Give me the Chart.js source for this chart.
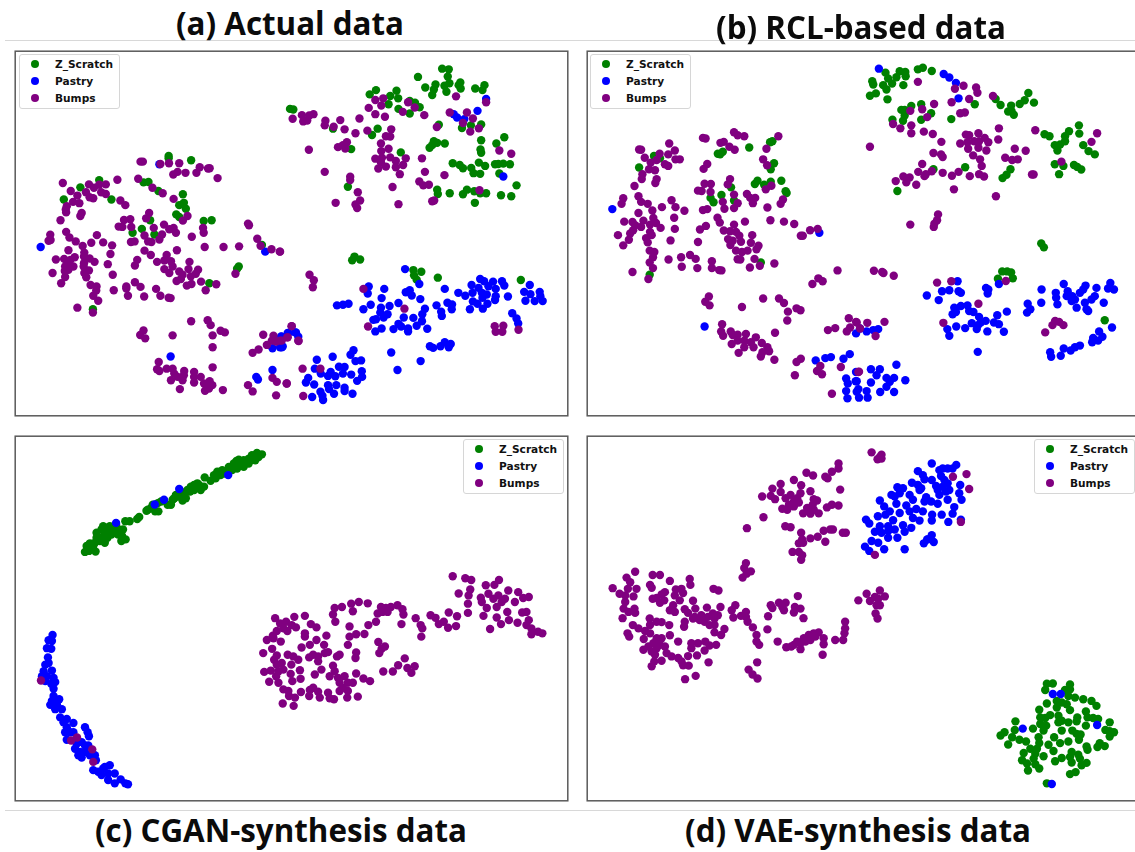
<!DOCTYPE html>
<html><head><meta charset="utf-8">
<script src="https://cdn.jsdelivr.net/npm/chart.js@4"></script>
<style>
html,body{margin:0;padding:0;background:#fff;width:1135px;height:852px;overflow:hidden}
#stage{position:relative;width:1135px;height:852px;overflow:hidden}
canvas{position:absolute;display:block}
.rule{position:absolute;left:5px;width:1130px;height:1px;background:#d8d8d8}
.title{position:absolute;font:bold 33px "Open Sans",sans-serif;color:#0b0b0b;white-space:nowrap;line-height:40px;transform-origin:left center}
.legend{position:absolute;width:99px;height:53px;border:1px solid #d6d6d6;border-radius:3px;background:#fff;box-sizing:content-box}
.legend div{position:absolute;left:35px;font:bold 10.6px/14px "DejaVu Sans",sans-serif;color:#111;white-space:nowrap}
.legend i{position:absolute;left:10.5px;width:8.6px;height:8.6px;border-radius:50%}
</style></head><body><div id="stage"></div>
<script>
const seriesNames=["Z_Scratch","Pastry","Bumps"];
const seriesColors=["#008000","#0000ff","#800080"];

const a_scratch=[[503,345],[503,352],[571,358],[293,418],[236,440],[186,477],[330,477],[427,425],[442,424],[472,451],[546,461],[549,487],[535,494],[555,505],[526,522],[535,530],[447,540],[609,542],[633,540],[422,566],[394,578],[460,583],[785,615],[715,680],[710,687],[626,731],[274,810],
[1330,80],[1350,82],[1257,105],[1347,104],[1352,124],[1385,122],[1380,130],[1310,128],[1337,132],[1279,137],[1305,143],[1386,140],[1430,140],[1458,130],[1452,145],[1343,150],[1300,160],[1130,145],[1192,147],[1111,158],[1173,163],[1197,170],[1168,188],[1232,178],[1248,183],[1262,197],[1198,202],[1232,216],[870,202],[880,204],[1000,262],[1135,262],[1118,281],[1320,250],[1390,260],[1417,252],[1448,249],[1448,297],[1305,300],[1315,305],[1338,307],[1300,312],[1292,320],[1494,307],[1518,288],[1446,325],[1448,335],[1205,334],[1055,324],[1362,367],[1383,372],[1393,382],[1418,381],[1441,365],[1460,375],[1490,370],[1500,369],[1515,368],[1535,370],[1425,397],[1445,399],[1503,398],[1555,434],[1315,447],[1317,460],[1353,458],[1405,447],[1393,461],[1427,452],[1463,458],[1445,458],[1508,464],[1539,467],[1429,487],[1045,438],[1065,650],[1058,661],[1082,659],[1243,691],[1267,696],[1245,707],[1253,720],[1317,714],[1568,721]];
const a_pastry=[[116,621],[475,370],[795,635],[509,953],[817,994],[768,1015],[773,1023],[843,892],[863,882],[885,880],[817,928],[840,925],[848,923],
[1463,172],[1437,208],[1365,218],[1375,228],[1397,233],[1515,407],[1218,688],[1261,733],[1155,748],[1108,741],[1105,762],[1147,776],[1220,758],[1232,752],[1238,768],[1264,779],[1338,748],[1379,760],[1400,769],[1419,736],[1440,745],[1445,718],[1457,725],[1484,726],[1511,725],[1518,738],[1492,748],[1470,740],[1450,760],[1422,760],[1465,765],[1452,775],[1492,770],[1490,782],[1529,771],[1595,736],[1578,757],[1597,764],[1625,757],[1627,770],[1610,785],[1634,785],[1582,784],[1423,786],[1437,793],[1467,793],[1453,808],[1414,810],[1346,790],[1360,795],[1359,810],[1313,798],[1327,817],[1329,830],[1198,791],[1171,800],[1145,805],[1143,820],[1092,810],[1114,796],[1012,798],[1030,796],[1047,793],[1278,808],[1270,825],[1243,836],[1214,835],[1269,846],[1198,854],[1165,825],[1153,835],[1130,840],[1122,842],[1128,877],[1147,868],[1183,870],[1206,862],[1227,868],[1227,877],[1253,860],[1285,869],[1542,822],[1555,838],[1560,853],[1293,922],[1303,927],[1325,922],[1338,910],[1350,925],[1356,915],[1176,941],[1265,967],[1195,994],[1062,934],[1053,948],[999,954],[951,963],[1068,967],[1085,965],[945,990],[1018,984],[1035,985],[1087,998],[963,1005],[993,1000],[985,1012],[1007,1013],[1030,1005],[1055,1008],[925,1018],[918,1032],[943,1038],[985,1040],[1010,1040],[1035,1048],[988,1052],[1073,1027],[1088,1015],[962,1060],[1003,1066],[1035,1058],[1059,1066],[937,1076],[968,1072],[970,1085],[845,925],[865,882],[888,880],[895,893],[845,893]];
const a_bumps=[[418,362],[425,362],[478,369],[504,367],[535,367],[597,379],[587,396],[530,393],[517,401],[554,396],[622,383],[627,382],[651,412],[348,417],[411,414],[183,427],[262,431],[293,432],[313,431],[277,441],[207,451],[253,455],[299,455],[313,460],[227,465],[264,470],[275,473],[214,484],[233,488],[357,480],[372,494],[195,497],[192,507],[193,516],[240,518],[236,527],[176,540],[454,441],[485,458],[518,475],[444,518],[435,534],[368,539],[387,537],[390,560],[352,559],[363,560],[560,527],[546,541],[489,553],[458,563],[505,567],[518,563],[525,578],[607,563],[609,578],[743,550],[746,555],[430,586],[483,583],[475,598],[441,604],[451,606],[573,590],[389,606],[400,604],[145,584],[146,600],[140,602],[193,575],[203,592],[222,604],[286,585],[269,608],[305,607],[332,616],[243,618],[200,631],[327,642],[248,638],[247,650],[264,656],[279,666],[162,659],[187,657],[219,652],[206,660],[197,668],[190,680],[215,680],[200,690],[189,694],[152,700],[190,712],[247,670],[246,680],[262,692],[248,700],[254,713],[178,731],[319,673],[334,705],[430,632],[449,645],[528,631],[612,621],[669,621],[716,619],[771,596],[781,617],[814,628],[839,635],[497,645],[408,660],[401,677],[468,666],[490,662],[510,664],[566,666],[515,680],[490,688],[505,700],[535,695],[563,688],[592,690],[585,702],[545,705],[570,710],[527,724],[540,718],[601,726],[647,734],[572,733],[558,738],[615,752],[705,702],[267,736],[285,741],[284,753],[275,769],[290,784],[337,752],[375,741],[375,747],[401,728],[418,742],[380,769],[429,771],[465,748],[478,769],[503,775],[509,776],[227,805],[274,820],
[571,846],[621,843],[630,858],[427,874],[417,888],[432,898],[515,889],[636,889],[660,875],[673,880],[636,925],[473,970],[468,992],[497,990],[515,990],[475,997],[520,1005],[550,997],[580,1000],[549,1010],[530,1015],[510,1025],[580,1015],[600,1015],[545,1025],[580,1032],[627,1028],[610,1035],[635,1040],[625,1050],[537,1052],[613,1057],[667,1055],[636,986],[743,1040],[757,1059],[817,1018],[830,1030],[860,1035],[828,1071],[789,887],[875,861],[820,890],[815,905],[800,918],[828,908],[845,905],[863,895],[895,905],[775,932],[757,942],
[878,232],[906,221],[928,222],[941,218],[922,237],[910,240],[977,238],[975,252],[1002,256],[1022,236],[1080,231],[1035,264],[1068,276],[1104,268],[927,326],[1015,318],[1030,312],[1042,303],[1037,322],[975,393],[1052,408],[1052,418],[1075,455],[1082,480],[1068,492],[1073,503],[1008,487],[1128,175],[1152,170],[1146,192],[1108,199],[1128,218],[1157,226],[1227,182],[1211,211],[1247,198],[1276,221],[1176,264],[1160,285],[1173,286],[1145,307],[1168,323],[1146,330],[1128,353],[1148,350],[1145,365],[1173,349],[1137,383],[1160,377],[1190,360],[1220,352],[1212,372],[1190,379],[1202,400],[1180,439],[1198,491],[1269,352],[1278,393],[1337,403],[1261,422],[1273,434],[1290,432],[1300,482],[1306,480],[1372,164],[1463,182],[1353,213],[1405,213],[1423,231],[1393,245],[1314,257],[1441,261],[1415,271],[1503,328],[1539,338],[1443,449],[840,635],[929,705],[942,722],[939,743],[1092,748],[1216,808],[1106,862],[1489,861],[1515,860],[1492,878],[1512,878],[1561,872],[875,861],[862,895],[896,906],[840,905],[908,990],[962,990],[860,1035],[910,1073]];

const b_scratch=[[217,345],[235,352],[172,380],[417,340],[425,332],[410,338],[505,319],[568,303],[575,300],[580,367],[570,385],[530,420],[522,430],[550,432],[570,423],[602,420],[615,452],[618,457],[450,440],[421,463],[388,472],[397,485],[459,480],[540,668],[204,705],
[917,92],[960,88],[977,90],[978,103],[950,106],[925,110],[937,125],[910,130],[920,143],[877,118],[880,128],[870,162],[888,155],[923,173],[971,130],[1015,82],[1030,77],[1057,87],[975,205],[995,193],[1025,188],[965,205],[975,222],[970,238],[938,235],[1025,235],[1055,215],[1116,233],[1187,188],[1250,172],[1265,190],[1297,192],[1288,210],[1298,208],[1305,220],[1323,187],[1338,176],[1349,154],[1366,183],[1398,279],[1413,285],[1472,270],[1460,285],[1460,300],[1429,312],[1445,310],[1437,328],[1502,252],[1503,277],[1515,312],[1531,330],[1550,340],[1429,370],[1455,375],[1487,372],[1497,378],[1509,386],[1442,400],[1295,385],[1283,402],[1271,412],[1158,379],[1062,385],[953,451],[1388,610],[1396,622],[1270,695],[1285,695],[1297,698],[1257,717],[1302,716],[1580,843]];
const b_pastry=[[91,506],[717,578],[370,862],[828,883],[706,965],[735,958],[752,955],[790,960],[809,946],[828,1000],[798,1020],[803,1035],[798,1058],[827,1028],[802,1080],[830,1060],
[897,80],[1093,96],[1110,107],[1130,123],[1138,170],[1135,725],[1221,745],[1228,750],[1226,762],[1088,755],[1110,752],[1138,755],[1145,760],[1042,768],[1078,782],[1260,733],[1125,805],[1145,800],[1165,798],[1120,825],[1130,818],[1170,815],[1183,818],[1200,833],[1220,845],[1205,850],[1255,828],[1284,817],[1197,858],[1178,852],[1131,862],[1158,867],[1104,870],[1110,890],[1193,870],[1225,877],[1245,850],[1260,855],[1275,878],[1196,939],[1456,733],[1389,750],[1468,755],[1432,760],[1522,738],[1555,745],[1597,730],[1590,747],[1608,750],[1515,750],[1505,760],[1482,770],[1465,770],[1433,775],[1437,795],[1388,790],[1347,793],[1355,810],[1345,820],[1490,780],[1495,805],[1525,810],[1530,815],[1550,770],[1540,780],[1577,790],[1520,790],[1480,785],[1602,865],[1563,877],[1573,893],[1545,897],[1542,910],[1560,905],[1505,920],[1490,925],[1477,935],[1456,929],[1447,951],[1415,940],[1418,954],[950,978],[873,992],[900,992],[890,1010],[920,1018],[943,1018],[873,1032],[977,1025],[930,1030],[920,1045],[943,1061],[901,1061],[835,1052],[860,1058],[837,1078],[863,1078],[830,1028],[880,873],[840,868],[860,877],[895,870]];
const b_bumps=[[459,273],[470,282],[490,285],[593,285],[365,290],[373,292],[418,305],[428,302],[445,317],[461,326],[557,323],[547,355],[559,373],[263,307],[172,325],[178,326],[280,328],[260,340],[234,338],[189,350],[282,355],[295,355],[225,357],[207,365],[250,370],[260,375],[202,385],[220,388],[378,369],[367,384],[182,400],[180,415],[225,415],[221,427],[158,436],[447,415],[370,429],[389,430],[440,431],[350,450],[361,451],[388,454],[555,446],[572,435],[459,462],[498,460],[523,472],[508,472],[516,488],[170,467],[124,473],[119,490],[178,484],[198,490],[270,479],[241,500],[282,500],[309,511],[425,484],[470,488],[430,505],[459,503],[560,501],[607,477],[600,490],[365,509],[378,506],[212,510],[170,518],[278,532],[215,533],[127,544],[152,545],[185,541],[223,548],[160,555],[205,553],[178,560],[237,563],[280,566],[154,570],[108,585],[145,580],[205,575],[210,585],[193,594],[141,599],[124,616],[198,607],[267,601],[350,606],[409,532],[416,547],[374,557],[356,568],[459,553],[492,544],[569,540],[610,544],[641,551],[428,571],[447,573],[465,575],[514,585],[475,587],[441,597],[455,602],[480,605],[510,608],[448,615],[533,617],[527,628],[465,632],[483,636],[500,632],[689,570],[712,566],[661,587],[667,587],[204,632],[218,636],[214,652],[204,668],[261,659],[299,652],[326,645],[343,657],[214,685],[301,681],[348,685],[392,664],[392,685],[414,691],[421,692],[470,658],[478,659],[521,657],[507,683],[537,678],[581,671],[152,697],[200,718],[772,692],[714,716],[727,725],[696,733],
[383,771],[372,787],[385,798],[483,803],[547,777],[595,777],[610,791],[648,807],[660,813],[622,817],[620,844],[423,855],[420,877],[426,890],[449,877],[455,888],[470,887],[495,885],[452,915],[470,905],[490,905],[525,895],[510,910],[473,942],[490,925],[518,925],[543,912],[560,925],[545,940],[565,937],[540,953],[583,881],[581,963],[661,960],[648,970],[643,1010],[720,982],[710,997],[725,1007],[782,985],[755,1066],[743,873],[765,867],[800,877],[806,837],[810,865],[828,848],[835,1000],
[1015,120],[1127,141],[1153,132],[1191,137],[1195,153],[1242,163],[1170,172],[1117,182],[1064,187],[992,208],[1028,203],[1043,227],[940,248],[962,261],[995,252],[995,276],[1033,271],[1060,278],[1086,302],[870,317],[1143,215],[1157,213],[1260,261],[1370,267],[1557,276],[1540,302],[1258,295],[1160,280],[1170,282],[1198,276],[1217,290],[1228,303],[1185,300],[1165,303],[1143,307],[1200,300],[1198,320],[1167,323],[1222,328],[1062,336],[1085,340],[1090,348],[1182,343],[1203,355],[1208,375],[1028,369],[1016,393],[1057,391],[1090,396],[1039,400],[1035,406],[1118,405],[1138,393],[1172,406],[1200,400],[1215,407],[1308,323],[1341,329],[1279,350],[1300,357],[1317,355],[1360,401],[1365,401],[1449,362],[948,421],[971,407],[990,410],[980,425],[1010,432],[1124,446],[1251,467],[1076,522],[1073,540],[1065,550],[1063,560],[992,553],[882,693],[907,697],[911,700],[942,708],[1073,729],[1116,725],[1281,724],[1198,793],[1092,851],[1422,858],[1430,845],[1442,848],[1455,858],[1400,880],[914,848],[862,851],[830,850],[840,868],[887,891],[837,999]];

const c_scratch=[[250,378],[262,375],[282,377],[270,370],[255,360],[265,352],[280,350],[295,345],[310,350],[285,335],[298,335],[318,335],[285,320],[305,300],[300,310],[320,315],[335,320],[350,310],[325,300],[345,300],[365,310],[372,285],[360,345],[373,340],[385,285],[408,278],[414,272],[436,253],[450,245],[462,255],[472,255],[470,230],[480,225],[500,235],[510,235],[515,220],[525,205],[545,222],[555,215],[540,195],[560,190],[570,180],[580,175],[590,170],[600,190],[610,180],[612,152],[630,162],[645,155],[650,135],[665,130],[672,140],[685,120],[695,130],[710,125],[708,102],[720,105],[730,100],[745,95],[755,85],[770,78],[785,82],[765,100],[745,110],[730,120],[715,98],[760,92],[775,90],[340,310],[330,325],[310,325],[275,360],[350,325],[362,330],[440,250],[455,235],[520,215],[530,210],[550,205],[568,195],[580,190],[595,175],[640,145],[660,145],[680,135],[700,110],[735,108],[750,100]];
const c_pastry=[[344,290],[461,234],[489,220],[535,187],[683,145],[152,630],[140,646],[150,648],[135,670],[148,672],[138,698],[130,720],[140,715],[125,740],[150,738],[120,755],[135,755],[155,760],[130,770],[148,778],[160,773],[155,793],[155,815],[172,825],[150,830],[145,842],[165,840],[160,855],[180,855],[175,880],[195,885],[185,895],[215,897],[195,910],[205,925],[190,925],[215,925],[195,948],[250,910],[258,925],[262,937],[225,960],[240,955],[250,965],[260,965],[220,975],[235,985],[250,985],[230,995],[240,1002],[265,995],[280,995],[283,1010],[275,1040],[290,1045],[305,1035],[325,1025],[300,1055],[320,1050],[340,1050],[320,1070],[340,1080],[358,1068],[372,1080],[380,1083],[310,1030]];
const c_bumps=[[117,768],[208,950],[226,941],[272,977],[275,1015],
[825,579],[883,575],[840,595],[858,590],[875,600],[850,610],[888,607],[862,618],[830,618],[818,632],[800,645],[820,640],[842,650],[915,572],[933,597],[950,607],[915,625],[915,635],[980,632],[950,645],[905,668],[930,660],[973,660],[789,685],[816,672],[830,692],[863,690],[880,695],[895,705],[822,705],[830,720],[874,720],[845,715],[928,698],[955,695],[975,685],[985,682],[955,710],[940,690],[1020,690],[1012,695],[1070,683],[1068,700],[1050,635],[1070,628],[1095,627],[1045,660],[1000,723],[792,742],[812,738],[835,740],[850,735],[828,755],[872,748],[900,737],[945,750],[965,735],[990,755],[1005,740],[807,772],[835,775],[877,770],[902,763],[850,795],[865,800],[867,815],[885,820],[848,838],[881,845],[903,803],[930,797],[940,790],[928,815],[955,802],[960,820],[985,805],[990,822],[1003,825],[1015,760],[1035,755],[1020,775],[1045,775],[1060,775],[1030,790],[1045,800],[1020,800],[1043,820],[1075,817],[1070,747],[1092,762],[1112,770],[1000,568],[1007,590],[1005,548],[1027,545],[1060,558],[1055,535],[1078,530],[1105,534],[1050,604],[1107,600],[1145,545],[1160,548],[1175,545],[1195,540],[1210,552],[1135,565],[1150,560],[1130,590],[1165,560],[1213,568],[1207,597],[1137,651],[1157,665],[1147,672],[1140,685],[1217,701],[1197,722],[1225,730],[1247,725],[1152,741],[1181,741],[1237,745],[1250,579],[1265,600],[1270,610],[1267,635],[1295,570],[1310,578],[1320,597],[1350,562],[1335,590],[1348,608],[1375,573],[1372,603],[1362,452],[1400,458],[1418,463],[1380,504],[1415,492],[1410,510],[1408,535],[1408,563],[1462,479],[1488,478],[1502,463],[1447,517],[1470,505],[1450,530],[1465,548],[1485,520],[1500,510],[1520,520],[1510,530],[1495,545],[1455,572],[1495,577],[1508,597],[1532,585],[1527,560],[1475,612],[1530,495],[1560,500],[1550,530],[1575,518],[1592,515],[1572,562],[1585,560],[1558,593],[1592,585],[1585,600],[1600,610],[1600,628],[1620,620],[1633,625]];

const d_scratch=[[1405,778],[1423,777],[1475,780],[1400,797],[1460,797],[1475,795],[1490,820],[1470,815],[1515,825],[1540,830],[1555,845],[1435,830],[1450,835],[1405,838],[1465,840],[1435,850],[1475,858],[1382,857],[1523,862],[1545,882],[1528,880],[1560,885],[1440,875],[1415,873],[1385,880],[1400,882],[1497,880],[1495,892],[1450,890],[1470,895],[1440,895],[1385,900],[1403,905],[1523,905],[1595,895],[1582,918],[1595,922],[1608,925],[1595,938],[1310,892],[1308,918],[1363,914],[1395,920],[1450,920],[1482,920],[1495,930],[1507,932],[1277,925],[1265,935],[1300,940],[1322,948],[1342,953],[1380,940],[1427,940],[1382,958],[1502,948],[1470,953],[1445,958],[1565,958],[1580,967],[1558,970],[1288,962],[1410,963],[1375,975],[1355,975],[1425,982],[1525,968],[1528,978],[1335,988],[1370,990],[1480,985],[1500,993],[1330,1010],[1345,1020],[1370,1022],[1395,998],[1450,1003],[1430,1013],[1480,1017],[1510,1025],[1525,1018],[1505,1005],[1382,1035],[1348,1041],[1475,1052],[1492,1046],[1405,1080],[1365,1005],[1475,1000]];
const d_pastry=[[1423,809],[1447,809],[1332,914],[1557,903],[1420,1082],
[1057,110],[1131,114],[1090,125],[1080,130],[1105,125],[1120,125],[1015,133],[1030,145],[1085,148],[1035,158],[1057,160],[997,168],[1095,160],[1143,175],[953,182],[970,185],[1015,175],[1020,190],[1070,178],[1090,180],[1110,190],[1100,195],[935,205],[945,210],[990,205],[1040,212],[1055,225],[1080,205],[1105,220],[1140,200],[1147,220],[950,232],[900,222],[980,237],[1000,220],[1035,225],[1075,232],[1125,242],[1120,262],[913,240],[930,255],[917,265],[960,260],[990,255],[1010,248],[1030,255],[1000,275],[1020,283],[1058,265],[1057,283],[1087,265],[1107,287],[1145,280],[894,270],[858,280],[868,292],[940,282],[900,300],[925,300],[885,317],[905,320],[925,315],[945,310],[970,297],[995,305],[975,317],[925,335],[953,335],[1045,340],[1057,327],[1063,348],[1033,352],[875,345],[895,350],[855,362],[868,375],[913,370],[975,370],[1043,340],[960,200],[1025,185],[1075,190],[1105,170]];
const d_bumps=[[875,76],[905,83],[900,90],[893,97],[905,95],[775,110],[775,125],[755,135],[735,150],[742,155],[678,138],[698,146],[640,160],[600,172],[662,176],[575,186],[690,194],[780,189],[600,196],[544,210],[570,208],[583,218],[660,200],[650,215],[630,205],[615,215],[640,225],[625,235],[605,247],[620,250],[640,240],[655,228],[700,218],[710,222],[697,235],[680,245],[740,243],[755,235],[775,237],[668,261],[690,262],[700,250],[715,261],[548,273],[498,306],[614,300],[630,303],[758,310],[750,310],[788,320],[797,320],[730,314],[662,320],[665,340],[690,337],[712,332],[735,347],[655,352],[668,350],[636,378],[655,378],[665,388],[662,402],[495,412],[490,427],[510,437],[497,444],[485,456],
[160,438],[134,456],[213,448],[235,448],[145,470],[92,488],[138,490],[164,490],[113,505],[130,510],[155,513],[205,478],[265,466],[325,460],[327,478],[210,487],[283,492],[300,490],[305,503],[250,500],[240,507],[280,510],[397,490],[412,495],[130,530],[125,550],[140,560],[158,550],[160,563],[122,579],[213,520],[225,518],[235,532],[248,525],[295,525],[335,526],[275,540],[265,555],[280,560],[310,552],[320,563],[342,550],[377,547],[418,545],[340,575],[360,570],[335,580],[355,585],[370,590],[385,600],[400,580],[410,570],[395,565],[380,575],[400,600],[430,612],[400,622],[420,630],[310,590],[308,605],[204,580],[225,590],[240,591],[263,600],[153,600],[170,610],[190,618],[205,600],[205,625],[137,625],[142,635],[186,642],[265,631],[225,640],[240,640],[215,655],[200,665],[235,660],[250,665],[185,675],[210,680],[225,670],[220,690],[255,685],[270,695],[290,650],[290,700],[330,655],[350,655],[330,670],[372,650],[385,662],[405,660],[370,677],[347,692],[320,694],[305,722],[322,723],[382,713],[210,725],[240,708],[218,710],[300,710],[343,754],[311,764],
[463,540],[452,555],[457,577],[495,560],[480,572],[495,575],[500,590],[516,607],[527,630],[527,650],[535,660],[570,540],[575,548],[595,532],[615,532],[605,545],[610,555],[652,512],[643,545],[660,550],[640,562],[669,579],[562,573],[560,613],[591,650],[529,713],[503,735],[515,750],[530,762],
[617,667],[632,665],[640,660],[650,650],[660,655],[670,640],[685,630],[700,625],[715,622],[730,640],[660,673],[675,650],[690,645],[705,635],[730,658],[727,690],[765,645],[789,645],[793,625],[795,610],[795,590],
[835,525],[860,505],[870,527],[885,515],[900,495],[895,520],[915,513],[890,540],[900,540],[887,565],[893,580],[885,387],[1121,150],[1162,142],[1170,187],[1145,287]];

const stage=document.getElementById('stage');
for(const y of [40,810]){const r=document.createElement('div');r.className='rule';r.style.top=y+'px';stage.appendChild(r);}

const frame={id:'panelFrame',afterDraw(c){const a=c.chartArea,x=c.ctx;x.save();x.strokeStyle='#5a5a5a';x.lineWidth=1.5;x.strokeRect(a.left,a.top,a.right-a.left,a.bottom-a.top);x.restore();}};

function panel(series,rect,range,legendAt){
  const pad=2,cv=document.createElement('canvas');
  cv.width=rect.w+pad*2;cv.height=rect.h+pad*2;
  cv.style.left=(rect.x-pad)+'px';cv.style.top=(rect.y-pad)+'px';
  cv.style.width=cv.width+'px';cv.style.height=cv.height+'px';
  stage.appendChild(cv);
  const chart=new Chart(cv,{type:'scatter',plugins:[frame],
    data:{datasets:series.map((d,i)=>({label:seriesNames[i],data:d,order:3-i,backgroundColor:seriesColors[i],borderWidth:0,pointRadius:4.2,pointHoverRadius:4.2}))},
    options:{responsive:false,animation:false,devicePixelRatio:1,layout:{padding:pad},
      events:[],
      plugins:{legend:{display:false},tooltip:{enabled:false}},
      scales:{x:{type:'linear',display:false,min:range[0],max:range[1]},y:{type:'linear',display:false,reverse:true,min:27,max:1133}}}});
  const box=document.createElement('div');box.className='legend';
  box.style.left=legendAt[0]+'px';box.style.top=legendAt[1]+'px';
  chart.data.datasets.forEach((ds,i)=>{
    const m=document.createElement('i');m.style.background=ds.backgroundColor;m.style.top=(4.6+17*i)+'px';
    const t=document.createElement('div');t.textContent=ds.label;t.style.top=(1.5+17*i)+'px';
    box.appendChild(m);box.appendChild(t);
  });
  stage.appendChild(box);
}
panel([a_scratch,a_pastry,a_bumps],{x:13,y:49,w:557,h:369},[39,1710],[19,54]);
panel([b_scratch,b_pastry,b_bumps],{x:585,y:49,w:555,h:369},[15,1680],[590,54]);
panel([c_scratch,c_pastry,c_bumps],{x:13,y:434,w:557,h:369},[39,1710],[463,439]);
panel([d_scratch,d_pastry,d_bumps],{x:585,y:434,w:555,h:369},[15,1680],[1034,439]);

const titles=[["(a) Actual data",176,404,3],["(b) RCL-based data",716,1006,7],["(c) CGAN-synthesis data",95,467,810],["(d) VAE-synthesis data",685,1031,810]];
for(const [s,l,r,top] of titles){
  const t=document.createElement('div');t.className='title';t.textContent=s;t.style.left=l+'px';t.style.top=top+'px';
  stage.appendChild(t);
  t.style.transform='scaleX('+((r-l)/t.getBoundingClientRect().width)+')';
}
</script></body></html>
